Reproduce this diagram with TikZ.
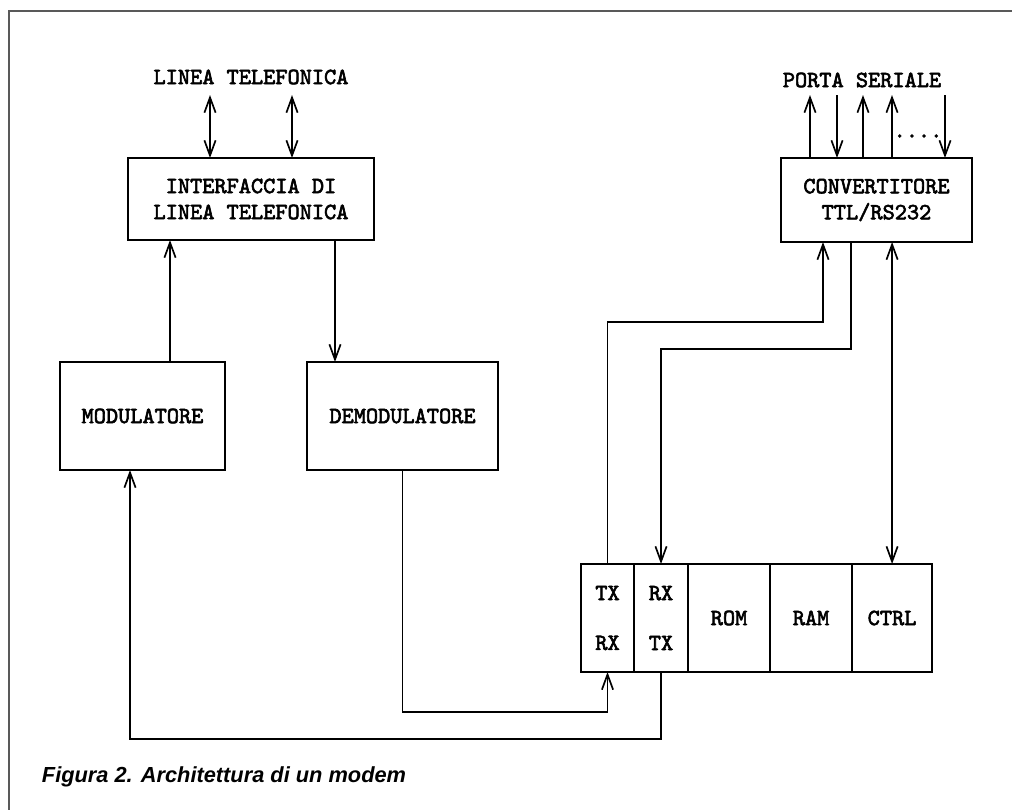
\documentclass[tikz,border=0pt]{standalone}
\usepackage{fontspec}
\setsansfont{Liberation Sans}
\newfontfamily\boxfont[Extension=.otf, AutoFakeBold=2.6]{lmmono10-regular}
\usetikzlibrary{arrows.meta,positioning,calc}

\begin{document}
\begin{tikzpicture}[x=0.025cm, y=-0.025cm,
		box/.style={rectangle, draw, line width=1.9pt, align=center, inner sep=0pt, outer sep=0pt,
			font=\boxfont\bfseries\fontsize{16.5}{18.5}\selectfont},
		cell/.style={box, minimum height=2.7cm},
		lbl/.style={font=\boxfont\bfseries\fontsize{16.5}{18.5}\selectfont},
		arrow/.style={-{Straight Barb[length=3.8mm, width=2.8mm]}, line width=1.2pt},
		biarrow/.style={{Straight Barb[length=3.8mm, width=2.8mm]}-{Straight Barb[length=3.8mm, width=2.8mm]}, line width=1.2pt}]

		\useasboundingbox (0,0) rectangle (1012,810);
		\draw[line width=1pt, black!65] (1012,11) -- (9,11) -- (9,810);

		% blocks
		\node [box, minimum width=6.15cm, minimum height=2.05cm] (iface) at (251,199) {INTERFACCIA DI\\LINEA TELEFONICA};
		\node [box, minimum width=4.125cm, minimum height=2.7cm] (mod) at (142.5,416) {MODULATORE};
		\node [box, minimum width=4.775cm, minimum height=2.7cm] (demod) at (402.5,416) {DEMODULATORE};
		\node [box, minimum width=4.775cm, minimum height=2.1cm] (conv) at (876.5,200) {CONVERTITORE\\TTL/RS232};

		% bus
		\node [cell, minimum width=1.325cm] (txrx) at (607.5,618) {TX\\[17pt]RX};
		\node [cell, minimum width=1.35cm, right=0pt of txrx] (rxtx) {RX\\[17pt]TX};
		\node [cell, minimum width=2.05cm, right=0pt of rxtx] (rom) {ROM};
		\node [cell, minimum width=2.05cm, right=0pt of rom] (ram) {RAM};
		\node [cell, minimum width=2cm, right=0pt of ram] (ctrl) {CTRL};

		% labels
		\node [lbl] (linea) at (251,77) {LINEA TELEFONICA};
		\node [lbl] (porta) at (862,80) {PORTA SERIALE};
		\node [lbl] (dots) at (918,136) {....};

		\coordinate (l1) at (210,95);
		\coordinate (l2) at (292,95);
		\coordinate (p1) at (810,95);
		\coordinate (p2) at (837,95);
		\coordinate (p3) at (863,95);
		\coordinate (p4) at (892,95);
		\coordinate (p5) at (945,95);
		\coordinate (modup) at (170,362);
		\coordinate (ifdown) at (335,240);
		\coordinate (txturn) at (823,322);
		\coordinate (rxturn) at (851,349);
		\coordinate (demturn) at (404,712);
		\coordinate (modturn) at (130,739);

		\draw [biarrow] (l1) -- (l1 |- iface.north);
		\draw [biarrow] (l2) -- (l2 |- iface.north);
		\draw [arrow] (p1 |- conv.north) -- (p1);
		\draw [arrow] (p2) -- (p2 |- conv.north);
		\draw [arrow] (p3 |- conv.north) -- (p3);
		\draw [arrow] (p4 |- conv.north) -- (p4);
		\draw [arrow] (p5) -- (p5 |- conv.north);

		\draw [arrow] (modup) -- (modup |- iface.south);
		\draw [arrow] (ifdown) -- (ifdown |- demod.north);

		\draw [arrow] (txrx.north) |- (txturn) -- (txturn |- conv.south);
		\draw [arrow] (rxturn |- conv.south) -- (rxturn) -| (rxtx.north);
		\draw [biarrow] (ctrl.north) -- (ctrl.north |- conv.south);

		\draw [arrow] (demod.south) |- (demturn) -| (txrx.south);
		\draw [arrow] (rxtx.south) |- (modturn) -- (modturn |- mod.south);

		\node [anchor=base west, font=\sffamily\bfseries\itshape\fontsize{15.5}{18}\selectfont] (caption) at (37,782) {Figura 2. Architettura di un modem};

	\end{tikzpicture}
\end{document}
